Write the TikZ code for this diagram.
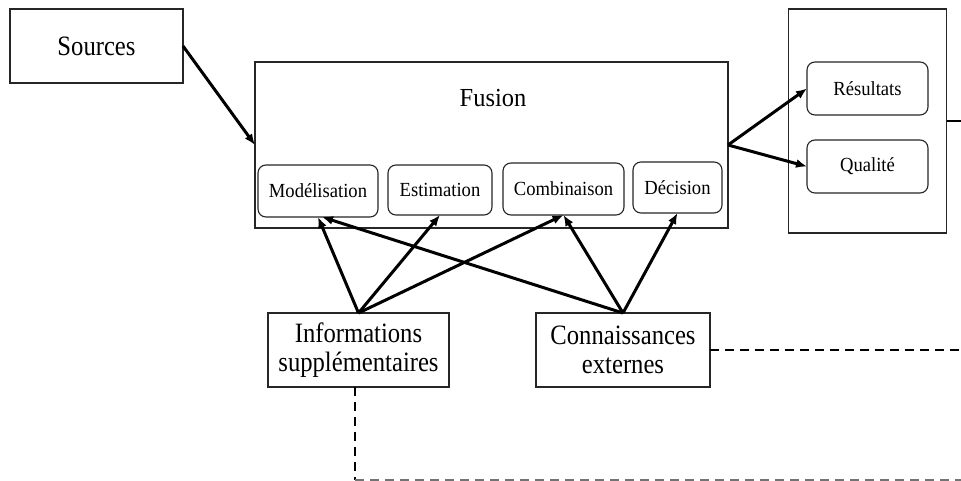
\documentclass[tikz,border=0pt]{standalone}
\usepackage{fontspec}
\setmainfont{Liberation Serif}
\newfontfamily\bigfont[FakeStretch=0.88]{Liberation Serif}
\newfontfamily\midfont[FakeStretch=0.94]{Liberation Serif}
\newfontfamily\smallfont[FakeStretch=0.93]{Liberation Serif}
\usetikzlibrary{arrows.meta}
\begin{document}
\begin{tikzpicture}[x=1pt,y=-1pt,
  box/.style={draw=black!85,line width=1.1pt,inner sep=0pt,outer sep=0pt,align=center},
  bigtext/.style={font=\bigfont\fontsize{28}{29}\selectfont},
  smalltext/.style={font=\smallfont\fontsize{20}{22}\selectfont},
  sub/.style={box,rounded corners=8pt,smalltext},
  arr/.style={line width=3pt,-{Latex[length=11pt,width=9pt]}},
  dashline/.style={line width=2pt,dash pattern=on 9pt off 6pt},
  stub/.style={line width=1.2pt}]
\useasboundingbox (0,0) rectangle (961,481);
\fill[white] (0,0) rectangle (961,481);
% boxes
\node[box,bigtext,minimum width=173pt,minimum height=74pt] (src) at (96.5,46) {Sources};
\node[box,minimum width=473pt,minimum height=166pt] (fus) at (491.5,145) {};
\node[font=\midfont\fontsize{26}{28}\selectfont] (fuslbl) at (493,98) {Fusion};
\node[box,minimum width=158pt,minimum height=224pt] (out) at (867.5,121) {};
\node[sub,minimum width=121pt,minimum height=53pt] (res) at (867.5,88.5) {Résultats};
\node[sub,minimum width=121pt,minimum height=53pt] (qual) at (867.5,166.5) {Qualité};
\node[sub,minimum width=120pt,minimum height=52pt] (mod) at (318,191) {Modélisation};
\node[sub,minimum width=104pt,minimum height=50pt] (est) at (440,190) {Estimation};
\node[sub,minimum width=121pt,minimum height=52pt] (comb) at (563.5,189) {Combinaison};
\node[sub,minimum width=89pt,minimum height=51pt] (dec) at (677.5,187.5) {Décision};
\node[box,bigtext,minimum width=181pt,minimum height=74pt] (info) at (358.5,350) {Informations\\supplémentaires};
\node[box,bigtext,minimum width=174pt,minimum height=74pt] (conn) at (623,350) {Connaissances\\externes};
% free ends
\coordinate (stubend) at (961,121);
\coordinate (connend) at (961,350);
\coordinate (infocorner) at (355,480);
\coordinate (infoend) at (961,480);
% connectors
\draw[arr] (src.east) -- (fus.west);
\draw[arr] (fus.east) -- (res.west);
\draw[arr] (fus.east) -- (qual.west);
\draw[stub] (out.east) -- (stubend);
\draw[arr] (info.north) -- (mod.south);
\draw[arr] (info.north) -- (est.south);
\draw[arr] (info.north) -- (comb.south);
\draw[arr] (conn.north) -- ([xshift=4pt]mod.south);
\draw[arr] (conn.north) -- (comb.south);
\draw[arr] (conn.north) -- (dec.south);
\draw[dashline] (conn.east) -- (connend);
\draw[dashline] ([xshift=-3.5pt]info.south) -- (infocorner);
\draw[dashline,black!55] (infocorner) -- (infoend);
\end{tikzpicture}
\end{document}
